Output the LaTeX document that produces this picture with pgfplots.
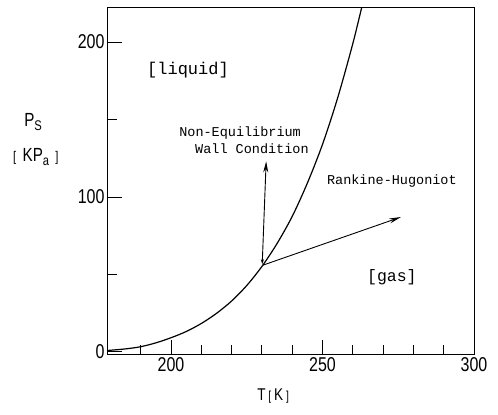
\documentclass[border=0pt]{standalone}
\usepackage{fontspec}
\usepackage{pgfplots}
\pgfplotsset{compat=1.18}
\usetikzlibrary{arrows.meta}
\setmainfont{Liberation Sans}
\newfontfamily\narrowsf[FakeStretch=0.8]{Liberation Sans}
\newfontfamily\typew{Liberation Mono}

% saturation pressure curve P_s(T)
\pgfplotstableread{
T      P
179.2  1.0
185    2.0
190    3.4
195    5.9
200    9.2
205    13.2
210    18.4
215    24.9
220    32.9
225    42.9
230    55.2
235    70.0
240    87.5
245    109
250    134
255    164
260    199
263.5  227
}\psat

\begin{document}
\begin{tikzpicture}
\useasboundingbox (-108pt,-61pt) rectangle (390pt,354pt);
\begin{axis}[
  at={(0pt,0pt)}, anchor=south west,
  scale only axis, width=366pt, height=346pt,
  xmin=179.2, xmax=300, ymin=-1.3, ymax=222,
  axis line style={line width=1pt},
  xtick={200,250,300}, minor xtick={190,210,220,230,240,260,270,280,290},
  ytick={0,100,200}, minor ytick={50,150},
  xtick pos=bottom, ytick pos=left,
  tick align=inside,
  major tick length=14pt, minor tick length=9pt,
  every tick/.style={line width=1pt, black},
  /pgf/number format/assume math mode=true,
  tick label style={font=\narrowsf\fontsize{20}{20}\selectfont},
  clip mode=individual,
]
\addplot[line width=1.2pt, smooth, black] table[x=T, y=P] {\psat};

% wall condition and Rankine-Hugoniot directions from the state on the curve
\draw[line width=0.9pt, {Stealth[length=5pt,width=3pt]}-{Stealth[length=11pt,width=5pt]}]
  (axis cs:230.1,56.6) -- (axis cs:231.4,123);
\draw[line width=0.9pt, -{Stealth[length=12pt,width=5pt]}]
  (axis cs:230.3,56) -- (axis cs:275.9,87.1);

\node[font=\typew\fontsize{17}{17}\selectfont] at (axis cs:205.6,181.9) {[liquid]};
\node[font=\typew\fontsize{16.5}{16.5}\selectfont] at (axis cs:272.9,48.4) {[gas]};
\node[font=\typew\fontsize{13.5}{13.5}\selectfont] at (axis cs:222.8,141.3) {Non-Equilibrium};
\node[font=\typew\fontsize{13.5}{13.5}\selectfont] at (axis cs:226.7,131) {Wall Condition};
\node[font=\typew\fontsize{13.5}{13.5}\selectfont] at (axis cs:272.9,110.3) {Rankine-Hugoniot};

% axis titles
\node[font=\narrowsf\fontsize{19}{19}\selectfont] at (axis cs:154.5,148.4)
  {P\raisebox{-0.45ex}{\fontsize{14}{14}\selectfont S}};
\node[font=\narrowsf\fontsize{19}{19}\selectfont] at (axis cs:155.4,125.8)
  {{\fontsize{14}{14}\selectfont[}\,\,KP\raisebox{-0.45ex}{\fontsize{14}{14}\selectfont a}\,\,{\fontsize{14}{14}\selectfont]}};
\node[font=\narrowsf\fontsize{17}{17}\selectfont] at (axis cs:233.7,-28.4)
  {T\,{\fontsize{13}{13}\selectfont[}\,K\,{\fontsize{13}{13}\selectfont]}};
\end{axis}
\end{tikzpicture}
\end{document}
